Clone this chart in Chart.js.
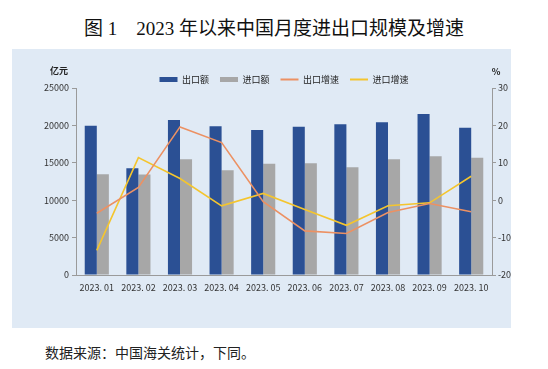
<!DOCTYPE html>
<html>
<head>
<meta charset="utf-8">
<script src="https://cdn.jsdelivr.net/npm/chart.js@4/dist/chart.umd.min.js"></script>
<style>
  body { margin: 0; background: #fff; width: 548px; height: 369px; position: relative; overflow: hidden; }
  #title { position: absolute; left: 0; top: 13px; width: 548px; text-align: center;
    font: 19px "Liberation Serif", "Noto Sans CJK SC", serif; color: #111; white-space: pre; }
  #panel { position: absolute; left: 12px; top: 49px; width: 499px; height: 279px; background: #e0eaf5; }
  #note { position: absolute; left: 45px; top: 342px; font: 14px "Liberation Serif", "Noto Sans CJK SC", serif; color: #222; }
</style>
</head>
<body>
<div id="title">图 1　2023 年以来中国月度进出口规模及增速</div>
<div id="panel"><canvas id="myChart"></canvas></div>
<div id="note">数据来源：中国海关统计，下同。</div>
<script>
// données
const months = ["2023. 01", "2023. 02", "2023. 03", "2023. 04", "2023. 05", "2023. 06", "2023. 07", "2023. 08", "2023. 09", "2023. 10"];
const exportValue = [19960, 14260, 20720, 19880, 19380, 19830, 20150, 20410, 21520, 19690];
const importValue = [13460, 13420, 15470, 14000, 14880, 14930, 14400, 15470, 15870, 15690];
const exportGrowth = [-3.5, 3.4, 19.6, 15.4, -0.4, -8.2, -8.9, -3.3, -0.9, -3.1];
const importGrowth = [-13.4, 11.4, 5.8, -1.5, 1.8, -2.5, -6.7, -1.5, -0.7, 6.4];
const leftTicks = [0, 5000, 10000, 15000, 20000, 25000];
const rightTicks = [-20, -10, 0, 10, 20, 30];

const axisColor = "#9a9a9a";
const fontFamily = "'Noto Sans CJK SC', 'Liberation Sans', sans-serif";

// unités au-dessus des axes + légende un peu plus serrée
const unitLabels = {
  id: "unitLabels",
  beforeLayout(chart) {
    const lg = chart.legend;
    if (lg && !lg._serre) {
      const fitOrig = lg.fit.bind(lg);
      lg.fit = function () { fitOrig(); this.height -= 6; };
      lg._serre = true;
    }
  },
  afterDraw(chart) {
    const ctx = chart.ctx;
    const area = chart.chartArea;
    ctx.save();
    ctx.fillStyle = "#222";
    ctx.font = "bold 9px " + fontFamily;
    ctx.textAlign = "center";
    ctx.textBaseline = "middle";
    ctx.fillText("亿元", area.left - 17, area.top - 17);
    ctx.fillText("%", area.right + 4, area.top - 16);
    ctx.restore();
  }
};

const chartData = {
  labels: months,
  datasets: [
    { type: "bar", label: "出口额", data: exportValue, backgroundColor: "#2b5094", yAxisID: "y", order: 1,
      barPercentage: 1, categoryPercentage: 0.58 },
    { type: "bar", label: "进口额", data: importValue, backgroundColor: "#a7a7a7", yAxisID: "y", order: 1,
      barPercentage: 1, categoryPercentage: 0.58 },
    { type: "line", label: "出口增速", data: exportGrowth, borderColor: "#ec9163", backgroundColor: "#ec9163",
      borderWidth: 1.6, pointRadius: 0, yAxisID: "y1", order: 0 },
    { type: "line", label: "进口增速", data: importGrowth, borderColor: "#f4c52e", backgroundColor: "#f4c52e",
      borderWidth: 1.6, pointRadius: 0, yAxisID: "y1", order: 0 }
  ]
};

const config = {
  type: "bar",
  data: chartData,
  plugins: [unitLabels],
  options: {
    responsive: true,
    maintainAspectRatio: false,
    animation: false,
    layout: { padding: { top: 15, left: 0, right: 0, bottom: 0 } },
    plugins: {
      tooltip: { enabled: false },
      legend: {
        position: "top",
        fullSize: false,
        labels: {
          font: { family: fontFamily, size: 9 },
          color: "#222",
          padding: 11,
          boxHeight: 5,
          usePointStyle: true,
          pointStyleWidth: 18,
          sort: (a, b) => a.datasetIndex - b.datasetIndex,
          generateLabels: chart => {
            const items = Chart.defaults.plugins.legend.labels.generateLabels(chart);
            items.forEach(item => {
              const ds = chart.data.datasets[item.datasetIndex];
              if (ds.type === "line") {
                item.pointStyle = "line";
                item.strokeStyle = ds.borderColor;
                item.lineWidth = 2;
              } else {
                item.pointStyle = "rect";
                item.fillStyle = ds.backgroundColor;
                item.lineWidth = 0;
              }
            });
            return items;
          }
        }
      }
    },
    scales: {
      x: {
        grid: { display: false, drawTicks: false },
        border: { display: true, color: axisColor },
        ticks: { font: { family: fontFamily, size: 9 }, color: "#333", padding: 7, maxRotation: 0 },
        afterFit: s => { s.height = 53; }
      },
      y: {
        position: "left",
        min: 0, max: 25000,
        afterBuildTicks: s => { s.ticks = leftTicks.map(v => ({ value: v })); },
        grid: { drawOnChartArea: false, drawTicks: true, tickLength: 4, color: axisColor },
        border: { display: true, color: axisColor },
        ticks: { font: { family: fontFamily, size: 9 }, color: "#333", padding: 3, callback: v => String(v) },
        afterFit: s => { s.width = 64; }
      },
      y1: {
        position: "right",
        min: -20, max: 30,
        afterBuildTicks: s => { s.ticks = rightTicks.map(v => ({ value: v })); },
        grid: { drawOnChartArea: false, drawTicks: true, tickLength: 4, color: axisColor },
        border: { display: true, color: axisColor },
        ticks: { font: { family: fontFamily, size: 9 }, color: "#333", padding: 2, callback: v => String(v) },
        afterFit: s => { s.width = 19; }
      }
    }
  }
};

const monGraphique = new Chart(document.getElementById("myChart"), config);
console.log(JSON.stringify(monGraphique.chartArea));
</script>
</body>
</html>
